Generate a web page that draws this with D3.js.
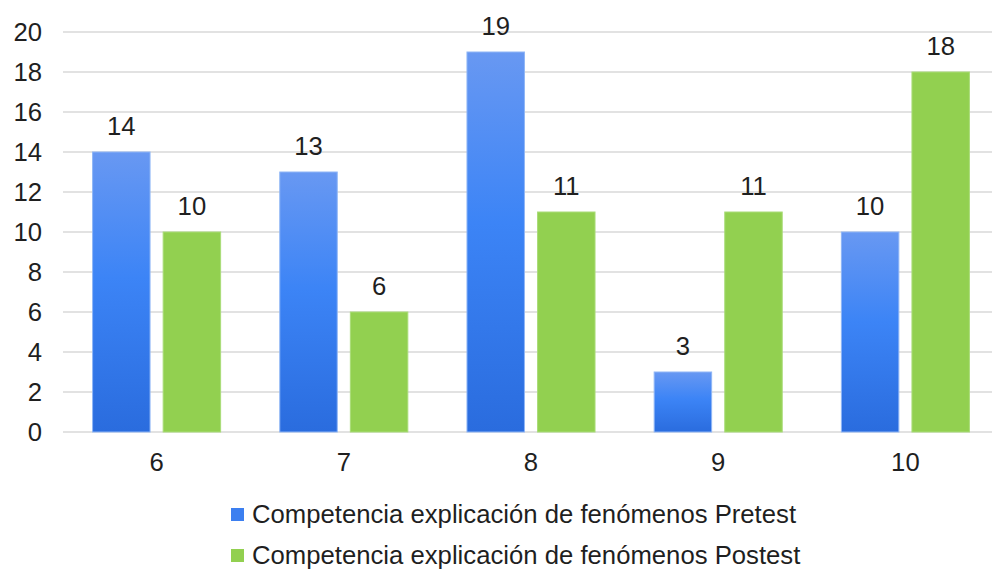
<!DOCTYPE html>
<html>
<head>
<meta charset="utf-8">
<script src="https://cdn.jsdelivr.net/npm/d3@7"></script>
<style>
  body { margin: 0; background: #fff; }
  text { font-family: "Liberation Sans", Arial, sans-serif; fill: #1f1f1f; }
</style>
</head>
<body>
<div id="app"></div>
<script>
const categories = ["6", "7", "8", "9", "10"];
const pretest = [14, 13, 19, 3, 10];
const postest = [10, 6, 11, 11, 18];
const seriesNames = ["Competencia explicación de fenómenos Pretest", "Competencia explicación de fenómenos Postest"];
const yTicks = [0, 2, 4, 6, 8, 10, 12, 14, 16, 18, 20];

const width = 992, height = 570;
const fontSize = 25.7;

const svg = d3.select("#app").append("svg")
    .attr("width", width)
    .attr("height", height);

const defs = svg.append("defs");
const grad = defs.append("linearGradient")
    .attr("id", "blueGrad")
    .attr("x1", 0).attr("y1", 0).attr("x2", 0).attr("y2", 1);
grad.append("stop").attr("offset", "0%").attr("stop-color", "#6898f2");
grad.append("stop").attr("offset", "45%").attr("stop-color", "#3c84f6");
grad.append("stop").attr("offset", "100%").attr("stop-color", "#2a6cde");

const x = d3.scaleBand()
    .domain(categories)
    .range([63, 999]);

const y = d3.scaleLinear()
    .domain([0, 20])
    .range([432, 32]);

// gridlines
svg.append("g")
    .selectAll("line")
    .data(yTicks)
    .enter()
    .append("line")
    .attr("x1", 63)
    .attr("x2", 999)
    .attr("y1", d => y(d))
    .attr("y2", d => y(d))
    .attr("stroke", "#d9d9d9")
    .attr("stroke-width", 1.5);

// y axis labels
svg.append("g")
    .selectAll("text")
    .data(yTicks)
    .enter()
    .append("text")
    .attr("x", 42)
    .attr("y", d => y(d))
    .attr("dy", "0.36em")
    .attr("text-anchor", "end")
    .style("font-size", fontSize + "px")
    .text(d => d);

// x axis labels
svg.append("g")
    .selectAll("text")
    .data(categories)
    .enter()
    .append("text")
    .attr("x", d => x(d) + x.bandwidth() / 2)
    .attr("y", 471)
    .attr("text-anchor", "middle")
    .style("font-size", fontSize + "px")
    .text(d => d);

const barW = x.bandwidth() * 0.307;
const gap = x.bandwidth() * 0.07;

const series = [
    { values: pretest, fill: "url(#blueGrad)", stroke: "#8fb6f6", offset: -gap / 2 - barW },
    { values: postest, fill: "#92d050", stroke: "#a9dc78", offset: gap / 2 }
];

series.forEach(s => {
    const g = svg.append("g");
    const rows = categories.map((c, i) => ({ cat: c, v: s.values[i] }));

    g.selectAll("rect")
        .data(rows)
        .enter()
        .append("rect")
        .attr("x", d => x(d.cat) + x.bandwidth() / 2 + s.offset)
        .attr("y", d => y(d.v))
        .attr("width", barW)
        .attr("height", d => y(0) - y(d.v))
        .attr("fill", s.fill)
        .attr("stroke", s.stroke)
        .attr("stroke-width", 1);

    g.selectAll("text")
        .data(rows)
        .enter()
        .append("text")
        .attr("x", d => x(d.cat) + x.bandwidth() / 2 + s.offset + barW / 2)
        .attr("y", d => y(d.v) - 17)
        .attr("text-anchor", "middle")
        .style("font-size", fontSize + "px")
        .text(d => d.v);
});

// legend
const legend = svg.append("g");
const legendColors = ["#3c7ff0", "#92d050"];
seriesNames.forEach((name, i) => {
    const baseY = 523 + i * 41;
    legend.append("rect")
        .attr("x", 231)
        .attr("y", baseY - 15)
        .attr("width", 13)
        .attr("height", 13)
        .attr("fill", legendColors[i]);
    legend.append("text")
        .attr("x", 252)
        .attr("y", baseY)
        .style("font-size", fontSize + "px")
        .text(name);
});
</script>
</body>
</html>
